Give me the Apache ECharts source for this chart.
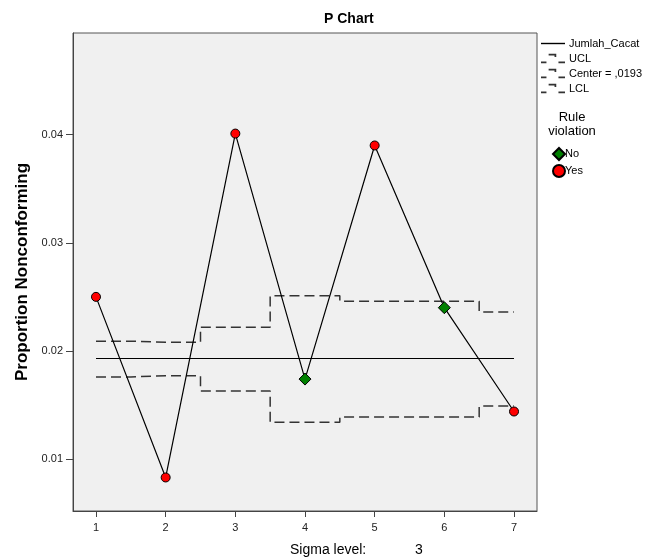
<!DOCTYPE html>
<html>
<head>
<meta charset="utf-8">
<script src="https://cdn.jsdelivr.net/npm/echarts@6/dist/echarts.min.js"></script>
<style>html,body{margin:0;padding:0;background:#fff}#c{width:646px;height:560px}</style>
</head>
<body>
<div id="c"></div>
<script>
// ---- data ----
var samples = [1, 2, 3, 4, 5, 6, 7];
var proportion = [0.0250, 0.0083, 0.0401, 0.0174, 0.0390, 0.0240, 0.0144];
var ucl = [0.0209, 0.0208, 0.0222, 0.0251, 0.0246, 0.0246, 0.0236];
var lcl = [0.0176, 0.0177, 0.0163, 0.0134, 0.0139, 0.0139, 0.0149];
var centerValue = 0.0193;
var violation = ['Yes', 'Yes', 'Yes', 'No', 'Yes', 'No', 'Yes'];
var xTicks = [1, 2, 3, 4, 5, 6, 7];
var yTicks = [0.01, 0.02, 0.03, 0.04];

var FONT = 'Liberation Sans, Arial, sans-serif';
function pairs(vals) { return samples.map(function (s, i) { return [s, vals[i]]; }); }
var centerData = samples.map(function (s) { return [s, centerValue]; });
var noData = [], yesData = [];
samples.forEach(function (s, i) {
  (violation[i] === 'No' ? noData : yesData).push([s, proportion[i]]);
});
var stepIcon = 'path://M0,9h5v1.6h-5zM7,2h7v1.6h-7zM12.4,2h1.6v3h-1.6zM16,9h6v1.6h-6z';
var lineIcon = 'path://M0,5h24v1.4h-24z';

var chart = echarts.init(document.getElementById('c'), null, {renderer: 'canvas'});
chart.setOption({
  animation: false,
  title: {
    text: 'P Chart', left: 319, top: 7,
    textStyle: {fontFamily: FONT, fontSize: 14, fontWeight: 'bold', color: '#000'}
  },
  grid: {
    left: 73, right: 109, top: 33, bottom: 49,
    show: true, backgroundColor: '#f0f0f0', borderColor: '#555', borderWidth: 1
  },
  xAxis: {
    type: 'value', min: 0.67, max: 7.33,
    splitLine: {show: false},
    axisLine: {show: true, lineStyle: {color: '#444', width: 1}},
    axisTick: {show: true, customValues: xTicks, length: 6, lineStyle: {color: '#444'}},
    axisLabel: {customValues: xTicks, fontFamily: FONT, fontSize: 11, color: '#222', margin: 11,
      formatter: function (v) { return String(Math.round(v)); }}
  },
  yAxis: {
    type: 'value', min: 0.0052, max: 0.0494,
    name: 'Proportion Nonconforming', nameLocation: 'middle', nameGap: 42, nameRotate: 90,
    nameTextStyle: {fontFamily: FONT, fontSize: 17, fontWeight: 'bold', color: '#000'},
    splitLine: {show: false},
    axisLine: {show: true, lineStyle: {color: '#444', width: 1}},
    axisTick: {show: true, customValues: yTicks, length: 7, lineStyle: {color: '#444'}},
    axisLabel: {customValues: yTicks, fontFamily: FONT, fontSize: 11, color: '#222', margin: 10,
      formatter: function (v) { return v.toFixed(2); }}
  },
  legend: [{
    orient: 'vertical', left: 541, top: 38, itemGap: 4, itemWidth: 24, itemHeight: 10,
    textStyle: {fontFamily: FONT, fontSize: 11, color: '#000', padding: [0, 0, 0, -1]},
    padding: 0,
    data: [
      {name: 'Jumlah_Cacat', icon: lineIcon},
      {name: 'UCL', icon: stepIcon},
      {name: 'Center = ,0193', icon: stepIcon},
      {name: 'LCL', icon: stepIcon}
    ]
  }, {
    orient: 'vertical', left: 552, top: 147, itemGap: 3, itemWidth: 12, itemHeight: 12,
    textStyle: {fontFamily: FONT, fontSize: 11, color: '#000', padding: [0, 0, 0, -5]},
    padding: 0,
    data: [{name: 'No', icon: 'diamond'}, {name: 'Yes', icon: 'circle'}]
  }],
  graphic: [
    {type: 'text', x: 572, y: 110, style: {text: 'Rule\nviolation', fontFamily: FONT, fontSize: 13,
      fill: '#000', align: 'center', lineHeight: 14}},
    {type: 'text', left: 290, top: 543, style: {text: 'Sigma level:', fontFamily: FONT, fontSize: 14, fill: '#000'}},
    {type: 'text', left: 415, top: 543, style: {text: '3', fontFamily: FONT, fontSize: 14, fill: '#000'}}
  ],
  series: [
    {name: 'UCL', type: 'line', step: 'middle', data: pairs(ucl), showSymbol: false, symbol: 'none',
      lineStyle: {color: '#333', width: 1.5, type: [10, 5]}, itemStyle: {color: '#333'}, z: 2},
    {name: 'LCL', type: 'line', step: 'middle', data: pairs(lcl), showSymbol: false, symbol: 'none',
      lineStyle: {color: '#333', width: 1.5, type: [10, 5]}, itemStyle: {color: '#333'}, z: 2},
    {name: 'Center = ,0193', type: 'line', data: centerData, showSymbol: false, symbol: 'none',
      lineStyle: {color: '#000', width: 1.2}, itemStyle: {color: '#333'}, z: 2},
    {name: 'Jumlah_Cacat', type: 'line', data: pairs(proportion), showSymbol: false, symbol: 'none',
      lineStyle: {color: '#000', width: 1.2}, itemStyle: {color: '#000'}, z: 3},
    {name: 'No', type: 'scatter', data: noData, symbol: 'diamond', symbolSize: 12,
      itemStyle: {color: '#008000', borderColor: '#000', borderWidth: 1, opacity: 1}, z: 5},
    {name: 'Yes', type: 'scatter', data: yesData, symbol: 'circle', symbolSize: 9,
      itemStyle: {color: '#ff0000', borderColor: '#000', borderWidth: 1, opacity: 1}, z: 5}
  ]
});
</script>
</body>
</html>
